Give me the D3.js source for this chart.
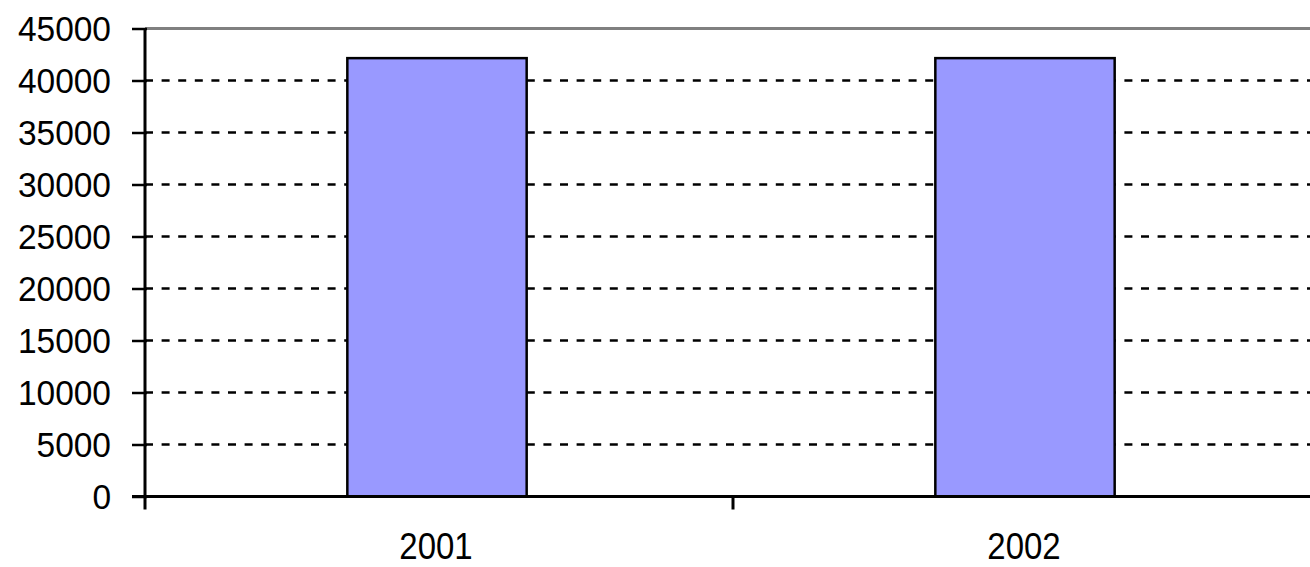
<!DOCTYPE html>
<html>
<head>
<meta charset="utf-8">
<script src="https://cdn.jsdelivr.net/npm/d3@7"></script>
<style>
  html, body { margin: 0; padding: 0; background: #fff; }
  svg { display: block; }
  text { font-family: "Liberation Sans", Arial, sans-serif; fill: #000; }
</style>
</head>
<body>
<svg id="chart" width="1310" height="567"></svg>
<script>
// Data
const years = ["2001", "2002"];
const values = [42150, 42150];
const yTicks = [0, 5000, 10000, 15000, 20000, 25000, 30000, 35000, 40000, 45000];

const svg = d3.select("#chart");

// Plot area
const plotLeft = 145, plotRight = 1321, plotTop = 28.5, plotBottom = 496.5;

const x = d3.scaleBand().domain(years).range([plotLeft, plotRight]).padding(0);
const y = d3.scaleLinear().domain([0, 45000]).range([plotBottom, plotTop]);
const barRatio = 0.305;

// Dashed horizontal gridlines (below 45000, which is a solid grey border)
svg.append("g")
  .selectAll("line")
  .data(yTicks.filter(d => d > 0 && d < 45000))
  .join("line")
  .attr("x1", plotLeft)
  .attr("x2", 1310)
  .attr("y1", d => y(d))
  .attr("y2", d => y(d))
  .attr("stroke", "#000")
  .attr("stroke-width", 2.5)
  .attr("stroke-dasharray", "8,8.6");

// Top border at the maximum
svg.append("line")
  .attr("x1", plotLeft).attr("x2", 1310)
  .attr("y1", y(45000)).attr("y2", y(45000))
  .attr("stroke", "#808080")
  .attr("stroke-width", 3);

// Bars
svg.append("g")
  .selectAll("rect")
  .data(years.map((k, i) => ({ k, v: values[i] })))
  .join("rect")
  .attr("x", d => x(d.k) + x.bandwidth() * (1 - barRatio) / 2 - 2)
  .attr("width", x.bandwidth() * barRatio)
  .attr("y", d => y(d.v))
  .attr("height", d => y(0) - y(d.v))
  .attr("fill", "#9999ff")
  .attr("stroke", "#000")
  .attr("stroke-width", 2.5);

// Y axis
const yAxis = svg.append("g")
  .attr("transform", `translate(${plotLeft},0)`)
  .call(d3.axisLeft(y).tickValues(yTicks).tickFormat(d3.format("d"))
    .tickSize(12).tickSizeOuter(0).tickPadding(0));
yAxis.select(".domain").remove();
yAxis.selectAll(".tick line")
  .attr("x1", -13).attr("x2", 2)
  .attr("stroke", "#000").attr("stroke-width", 2.5);
yAxis.selectAll(".tick text")
  .style("font-size", "33.5px")
  .attr("x", null)
  .attr("dy", null)
  .attr("transform", "translate(-34,12) scale(1,1.05)")
  .attr("fill", "#000");
svg.append("line")
  .attr("x1", plotLeft).attr("x2", plotLeft)
  .attr("y1", plotTop).attr("y2", plotBottom + 13)
  .attr("stroke", "#000").attr("stroke-width", 3);

// X axis baseline with boundary ticks between categories
svg.append("line")
  .attr("x1", plotLeft - 13).attr("x2", 1310)
  .attr("y1", plotBottom).attr("y2", plotBottom)
  .attr("stroke", "#000").attr("stroke-width", 3);
svg.append("g")
  .selectAll("line")
  .data(years.slice(1))
  .join("line")
  .attr("x1", d => x(d)).attr("x2", d => x(d))
  .attr("y1", plotBottom).attr("y2", plotBottom + 13)
  .attr("stroke", "#000").attr("stroke-width", 3);

// Category labels
svg.append("g")
  .selectAll("text")
  .data(years)
  .join("text")
  .attr("text-anchor", "middle")
  .attr("transform", d => `translate(${x(d) + x.bandwidth() / 2 - 3},559) scale(1,1.1)`)
  .style("font-size", "33px")
  .text(d => d);
</script>
</body>
</html>
